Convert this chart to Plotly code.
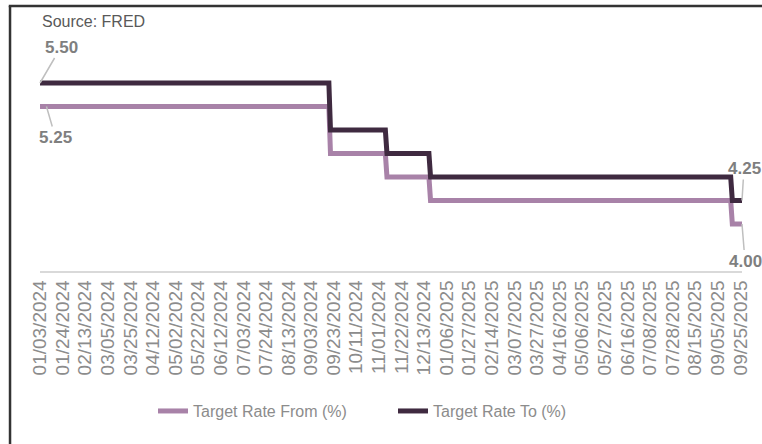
import pandas as pd
import plotly.graph_objects as go
from pandas.tseries.holiday import USFederalHolidayCalendar

# ---- data ----
start_date = "2024-01-03"
end_date = "2025-09-26"
# effective dates of each target-rate level (FRED DFEDTARL / DFEDTARU)
change_dates = ["2024-01-03", "2024-09-19", "2024-11-08", "2024-12-19", "2025-09-18"]
rate_from = [5.25, 4.75, 4.50, 4.25, 4.00]
rate_to = [5.50, 5.00, 4.75, 4.50, 4.25]
tick_labels = [
    "01/03/2024", "01/24/2024", "02/13/2024", "03/05/2024", "03/25/2024", "04/12/2024",
    "05/02/2024", "05/22/2024", "06/12/2024", "07/03/2024", "07/24/2024", "08/13/2024",
    "09/03/2024", "09/23/2024", "10/11/2024", "11/01/2024", "11/22/2024", "12/13/2024",
    "01/06/2025", "01/27/2025", "02/14/2025", "03/07/2025", "03/27/2025", "04/16/2025",
    "05/06/2025", "05/27/2025", "06/16/2025", "07/08/2025", "07/28/2025", "08/15/2025",
    "09/05/2025", "09/25/2025",
]

# business-day categories (US federal holidays excluded)
hol = USFederalHolidayCalendar().holidays(start=start_date, end=end_date)
days = pd.bdate_range(start_date, end_date, freq="C", holidays=hol)
cats = [d.strftime("%m/%d/%Y") for d in days]

cd = pd.to_datetime(change_dates)
def level(series):
    out = []
    for d in days:
        idx = (cd <= d).sum() - 1
        out.append(series[idx])
    return out

y_from = level(rate_from)
y_to = level(rate_to)

FONT = "Liberation Sans, Arial, sans-serif"
PURPLE = "#A882A8"
DARK = "#3F2A40"
GREY = "#8C8C8C"

fig = go.Figure()
fig.add_trace(go.Scatter(x=cats, y=y_from, mode="lines", name="Target Rate From (%)",
                         line=dict(color=PURPLE, width=5)))
fig.add_trace(go.Scatter(x=cats, y=y_to, mode="lines", name="Target Rate To (%)",
                         line=dict(color=DARK, width=5)))

n = len(cats)
fig.update_xaxes(type="category", range=[0, n - 1], tickmode="array",
                 tickvals=tick_labels, ticktext=tick_labels, tickangle=-90,
                 tickfont=dict(family=FONT, size=19, color=GREY),
                 showgrid=False, showline=True, linecolor="#D9D9D9", linewidth=1.5,
                 ticks="", zeroline=False)
fig.update_yaxes(range=[3.5, 6.0], visible=False, showgrid=False, zeroline=False)

ann_font = dict(family=FONT, size=17, color="#7F7F7F")
def lab(xcat, yv, text, ax, ay):
    fig.add_annotation(x=xcat, y=yv, text="<b>%s</b>" % text, showarrow=True,
                       arrowhead=0, arrowwidth=1.5, arrowcolor="#BFBFBF",
                       ax=ax, ay=ay, font=ann_font, standoff=0)

lab(cats[0], y_to[0], "5.50", 21, -36)
lab(cats[4], y_from[4], "5.25", 9, 31)
lab(cats[-1], y_to[-1], "4.25", 2, -32)
lab(cats[-1], y_from[-1], "4.00", 3, 37)

fig.add_annotation(xref="paper", yref="paper", x=0, y=1.06, xanchor="left", yanchor="middle",
                   text="Source: FRED", showarrow=False,
                   font=dict(family=FONT, size=16, color="#595959"))

# frame (top + left visible)
fig.add_shape(type="line", xref="paper", yref="paper", x0=-0.0427, x1=-0.0427, y0=1.128, y1=-0.8,
              line=dict(color="#333333", width=2.5))
fig.add_shape(type="line", xref="paper", yref="paper", x0=-0.0445, x1=1.05, y0=1.128, y1=1.128,
              line=dict(color="#333333", width=2.5))

fig.update_layout(
    width=762, height=444,
    margin=dict(l=40, r=20, t=36, b=173),
    paper_bgcolor="white", plot_bgcolor="white",
    showlegend=True,
    legend=dict(orientation="h", x=0.161, xanchor="left", y=-0.596, yanchor="middle",
                font=dict(family=FONT, size=16, color=GREY),
                entrywidth=195, entrywidthmode="pixels", itemwidth=30),
)

fig.write_html("out.html", config={"displayModeBar": False},
               post_script="document.body.style.margin='0px';")
